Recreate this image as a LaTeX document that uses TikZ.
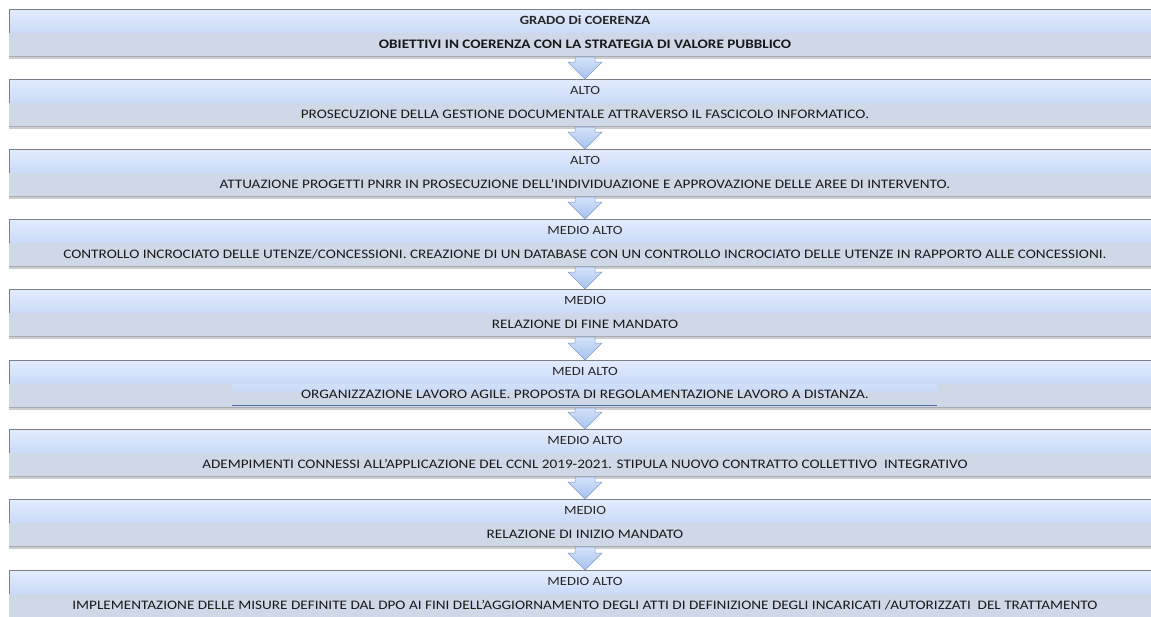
\documentclass[tikz,border=0pt]{standalone}
\usepackage{fontspec}
\setmainfont{Carlito}[FakeStretch=1.17]
\usetikzlibrary{calc}

\definecolor{bandtop}{HTML}{E2ECFD}
\definecolor{bandmid}{HTML}{CADAF7}
\definecolor{bandlow}{HTML}{CFD8E7}
\definecolor{edgegray}{HTML}{7A7F88}
\definecolor{shadowgray}{HTML}{A9ACB0}
\definecolor{arrowtop}{HTML}{D3E2FA}
\definecolor{arrowlow}{HTML}{A7C2EE}
\definecolor{arrowedge}{HTML}{7F9CCB}
\definecolor{ruleblue}{HTML}{4F6FA0}

\tikzset{
  panelbox/.style={minimum width=1152pt, minimum height=47pt, inner sep=0pt, outer sep=0pt},
  lvltext/.style={font=\fontsize{12.5}{14}\selectfont, inner sep=0pt, anchor=center, text=black!85},
  maintext/.style={font=\fontsize{13}{15}\selectfont, inner sep=0pt, anchor=center, text=black!90},
  flowarrow/.style={top color=arrowtop, bottom color=arrowlow, draw=arrowedge, line width=0.5pt, line join=miter},
}

% one panel: name, top edge, level label, description
\newcommand\panel[4]{%
  \node[panelbox] (#1) at (585,#2+23.5) {};
  \fill[shadowgray!60] ([yshift=-1pt]#1.south west) rectangle ([yshift=-3pt]#1.south east);
  \fill[shadowgray] (#1.south west) rectangle ([yshift=-1pt]#1.south east);
  \shade[top color=bandtop, bottom color=bandmid] (#1.north west) rectangle ([yshift=-24pt]#1.north east);
  \fill[bandlow] ([yshift=-24pt]#1.north west) rectangle (#1.south east);
  \draw[edgegray, line width=0.8pt] ([yshift=-24pt]#1.north west) -- (#1.north west) -- (#1.north east);
  \node[lvltext] (#1-lvl) at ([yshift=-11pt]#1.north) {#3};
  \node[maintext] (#1-txt) at ([yshift=-35pt]#1.north) {#4};
}

% block arrow between two panels
\newcommand\flow[2]{%
  \path let \p1=(#1.south), \p2=(#2.north) in
    [flowarrow] (\x1-10pt,\y1-1pt) -- (\x1+10pt,\y1-1pt) -- (\x1+10pt,\y2+17pt)
    -- (\x1+17pt,\y2+17pt) -- (\x2,\y2) -- (\x1-17pt,\y2+17pt)
    -- (\x1-10pt,\y2+17pt) -- cycle;
}

\begin{document}
\begin{tikzpicture}[x=1pt, y=-1pt]
\useasboundingbox (0,0) rectangle (1151,616);
\fill[white] (0,0) rectangle (1151,616);

\panel{p0}{9}{\textbf{GRADO Di COERENZA}}{\textbf{OBIETTIVI IN COERENZA CON LA STRATEGIA DI VALORE PUBBLICO}}
\panel{p1}{79}{ALTO}{PROSECUZIONE DELLA GESTIONE DOCUMENTALE ATTRAVERSO IL FASCICOLO INFORMATICO.}
\panel{p2}{149}{ALTO}{ATTUAZIONE PROGETTI PNRR IN PROSECUZIONE DELL’INDIVIDUAZIONE E APPROVAZIONE DELLE AREE DI INTERVENTO.}
\panel{p3}{219}{MEDIO ALTO}{CONTROLLO INCROCIATO DELLE UTENZE/CONCESSIONI. CREAZIONE DI UN DATABASE CON UN CONTROLLO INCROCIATO DELLE UTENZE IN RAPPORTO ALLE CONCESSIONI.}
\panel{p4}{289}{MEDIO}{RELAZIONE DI FINE MANDATO}
\panel{p5}{360}{MEDI ALTO}{}
% the lower band of this panel is interrupted by a text frame
\shade[top color=bandmid!70!bandtop, bottom color=bandmid] (232,384) rectangle (937,391);
\draw[ruleblue, line width=1.2pt] (232,405.5) -- (937,405.5);
\node[maintext] (p5-txt) at ([yshift=-34pt]p5.north) {ORGANIZZAZIONE LAVORO AGILE. PROPOSTA DI REGOLAMENTAZIONE LAVORO A DISTANZA.};
\panel{p6}{429}{MEDIO ALTO}{ADEMPIMENTI CONNESSI ALL'APPLICAZIONE DEL CCNL 2019-2021. STIPULA NUOVO CONTRATTO COLLETTIVO\ \ INTEGRATIVO}
\panel{p7}{499}{MEDIO}{RELAZIONE DI INIZIO MANDATO}
\panel{p8}{570}{MEDIO ALTO}{IMPLEMENTAZIONE DELLE MISURE DEFINITE DAL DPO AI FINI DELL'AGGIORNAMENTO DEGLI ATTI DI DEFINIZIONE DEGLI INCARICATI /AUTORIZZATI\ \ DEL TRATTAMENTO}

\flow{p0}{p1}
\flow{p1}{p2}
\flow{p2}{p3}
\flow{p3}{p4}
\flow{p4}{p5}
\flow{p5}{p6}
\flow{p6}{p7}
\flow{p7}{p8}
\end{tikzpicture}
\end{document}
